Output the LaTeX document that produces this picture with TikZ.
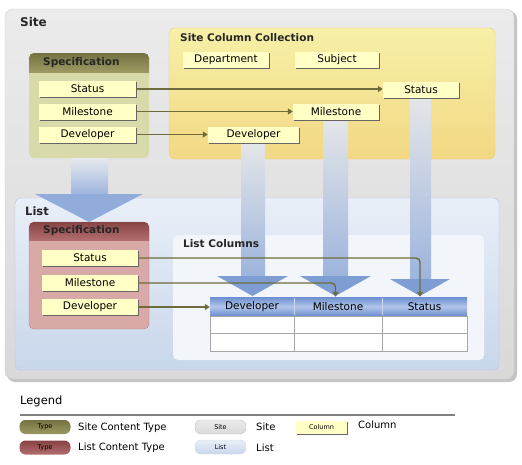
\documentclass[tikz,border=0pt]{standalone}
\usepackage{fontspec}
\setmainfont{DejaVu Sans}
\usetikzlibrary{shadows,arrows.meta}

\definecolor{sitetop}{HTML}{EBEBEB}
\definecolor{sitebot}{HTML}{D9D9D9}
\definecolor{siteedge}{HTML}{C4C4C4}
\definecolor{colfill}{HTML}{FFFFC6}
\definecolor{colltop}{HTML}{F7F0A8}
\definecolor{collbot}{HTML}{F2D883}
\definecolor{stfill}{HTML}{D8DAA9}
\definecolor{sthead}{HTML}{747242}
\definecolor{stheadlight}{HTML}{9C9A62}
\definecolor{ltfill}{HTML}{D9A9A8}
\definecolor{lthead}{HTML}{884444}
\definecolor{ltheadlight}{HTML}{B26E6E}
\definecolor{listtop}{HTML}{E9EFF8}
\definecolor{listbot}{HTML}{C9D7EB}
\definecolor{lcfill}{HTML}{F2F6FB}
\definecolor{shaftgray}{HTML}{E4E6E8}
\definecolor{shaftblue}{HTML}{9DB4DD}
\definecolor{headblue}{HTML}{7D9DD3}
\definecolor{tabdark}{HTML}{6A8ECF}
\definecolor{tablight}{HTML}{B2C6EA}
\definecolor{linkcol}{HTML}{6E6C3C}

\begin{document}
\begin{tikzpicture}
           [x=1pt,y=-1pt,
            font=\fontsize{10.5}{12}\selectfont,
            col/.style={fill=colfill,inner sep=0pt,minimum height=16pt,
              drop shadow={shadow xshift=1.3pt,shadow yshift=-1.3pt,fill=black!60,opacity=1}},
            title/.style={font=\fontsize{10.5}{12}\selectfont\bfseries,anchor=west,inner sep=0pt,text=black!85},
            link/.style={draw=linkcol,line width=1.4pt,-{Triangle[length=5pt,width=6pt]}},
            thead/.style={inner sep=0pt,minimum height=19pt},
            pill/.style={rounded corners=6pt,minimum width=51pt,minimum height=14pt,inner sep=0pt,
              font=\fontsize{6.5}{7}\selectfont},
            legtext/.style={anchor=west,inner sep=0pt,font=\fontsize{10}{12}\selectfont}]
           \useasboundingbox (0,0) rectangle (522,464);

           % site
           \fill[siteedge,rounded corners=8pt] (7,11) rectangle (517,382);
           \shade[top color=sitetop,bottom color=sitebot,draw=siteedge!80,rounded corners=8pt]
             (5,9) rectangle (514,379);
           \node[title,font=\fontsize{12}{14}\selectfont\bfseries] (sitelbl) at (20,22) {Site};

           \shade[top color=colltop,bottom color=collbot,draw=collbot!90!orange,rounded corners=6pt]
             (169,28) rectangle (495,159);
           \node[title] (colllbl) at (180,38) {Site Column Collection};

           \fill[stfill,rounded corners=5pt] (29,53) rectangle (149,158);
           \begin{scope}
             \clip[rounded corners=5pt] (29,53) rectangle (149,158);
             \shade[top color=sthead,bottom color=stheadlight] (29,53) rectangle (149,72);
           \end{scope}
           \node[title] (stlbl) at (43,62.5) {Specification};

           % list
           \shade[top color=listtop,bottom color=listbot,draw=listtop!80!blue,rounded corners=6pt]
             (15,198) rectangle (499,370);
           \node[title,font=\fontsize{11.5}{13}\selectfont\bfseries] (listlbl) at (25,211) {List};
           \fill[lcfill,rounded corners=5pt] (173,235) rectangle (484,360);

           \shade[top color=shaftgray!60!listtop,bottom color=shaftblue] (71,158) rectangle (108,195);
           \fill[headblue!85!white] (35,194) -- (143,194) -- (89,222) -- cycle;

           \draw[ltfill!80!black,fill=ltfill,rounded corners=5pt] (29,222) rectangle (149,329);
           \begin{scope}
             \clip[rounded corners=5pt] (29,222) rectangle (149,329);
             \shade[top color=lthead,bottom color=ltheadlight] (29,222) rectangle (149,240);
           \end{scope}
           \node[title] (ltlbl) at (43,231) {Specification};

           % shafts
           \shade[top color=shaftgray,bottom color=shaftblue] (241,143) rectangle (265,277);
           \fill[headblue] (217,276) -- (288,276) -- (252.5,296) -- cycle;
           \shade[top color=shaftgray,bottom color=shaftblue] (323,120) rectangle (348,277);
           \fill[headblue] (300,276) -- (371,276) -- (335.5,296) -- cycle;
           \shade[top color=shaftgray,bottom color=shaftblue] (410,98) rectangle (431,280);
           \fill[headblue] (390,279) -- (450,279) -- (420,296) -- cycle;
           \node[title] (lclbl) at (183,244) {List Columns};

           % table
           \shade[top color=tabdark,bottom color=tabdark,middle color=tablight] (210,297) rectangle (467,316);
           \draw[tablight!70!white] (294,298) -- (294,315) (382,298) -- (382,315);
           \draw[black!35,fill=white] (210,316) rectangle (467,351);
           \draw[black!35] (210,333) -- (467,333) (294,316) -- (294,351) (382,316) -- (382,351);
           \node[thead,minimum width=84pt] (hdev) at (252,306.5) {Developer};
           \node[thead,minimum width=88pt] (hmil) at (338,306.5) {Milestone};
           \node[thead,minimum width=85pt] (hsta) at (424.5,306.5) {Status};

           % columns
           \node[col,minimum width=97pt] (sStatus) at (87.5,89) {Status};
           \node[col,minimum width=97pt] (sMilestone) at (87.5,111.5) {Milestone};
           \node[col,minimum width=97pt] (sDeveloper) at (87.5,134.5) {Developer};
           \node[col,minimum width=86pt] (cDepartment) at (226,59.5) {Department};
           \node[col,minimum width=84pt] (cSubject) at (337,59.5) {Subject};
           \node[col,minimum width=76pt] (cStatus) at (421,89.5) {Status};
           \node[col,minimum width=86pt] (cMilestone) at (336,111.5) {Milestone};
           \node[col,minimum width=91pt] (cDeveloper) at (253.5,134.5) {Developer};
           \node[col,minimum width=96pt] (lStatus) at (90,258) {Status};
           \node[col,minimum width=96pt] (lMilestone) at (90,283) {Milestone};
           \node[col,minimum width=96pt] (lDeveloper) at (90,307) {Developer};

           \draw[link] (sStatus.east) -- (sStatus.east -| cStatus.west);
           \draw[link] (sMilestone.east) -- (sMilestone.east -| cMilestone.west);
           \draw[link] (sDeveloper.east) -- (sDeveloper.east -| cDeveloper.west);
           \draw[link,rounded corners=4pt] (lStatus.east) -| ([xshift=-4.5pt]hsta.north);
           \draw[link,rounded corners=4pt] (lMilestone.east) -| ([xshift=-2.5pt]hmil.north);
           \draw[link] (lDeveloper.east) -- (lDeveloper.east -| hdev.west);

           % legend
           \node[legtext,font=\fontsize{11.5}{13}\selectfont] (leglbl) at (20,401) {Legend};
           \draw[black!50,line width=1.5pt] (20,415) -- (455,415);
           \node[pill,top color=sthead,bottom color=stheadlight] (legst) at (45,427) {Type};
           \node[pill,top color=lthead,bottom color=ltheadlight] (leglt) at (45,447.5) {Type};
           \node[pill,top color=sitetop,bottom color=sitebot,draw=siteedge] (legsite) at (220.5,427) {Site};
           \node[pill,top color=listtop,bottom color=listbot,draw=listbot] (leglist) at (220.5,447) {List};
           \node[col,minimum width=51pt,minimum height=13pt,font=\fontsize{6.5}{7}\selectfont] (legcol) at (321.5,427.5) {Column};
           \node[legtext] (legsttxt) at (78,428) {Site Content Type};
           \node[legtext] (leglttxt) at (78,448) {List Content Type};
           \node[legtext] (legsitetxt) at (256,427) {Site};
           \node[legtext] (leglisttxt) at (256,448) {List};
           \node[legtext] (legcoltxt) at (358,425) {Column};
         \end{tikzpicture}
\end{document}
